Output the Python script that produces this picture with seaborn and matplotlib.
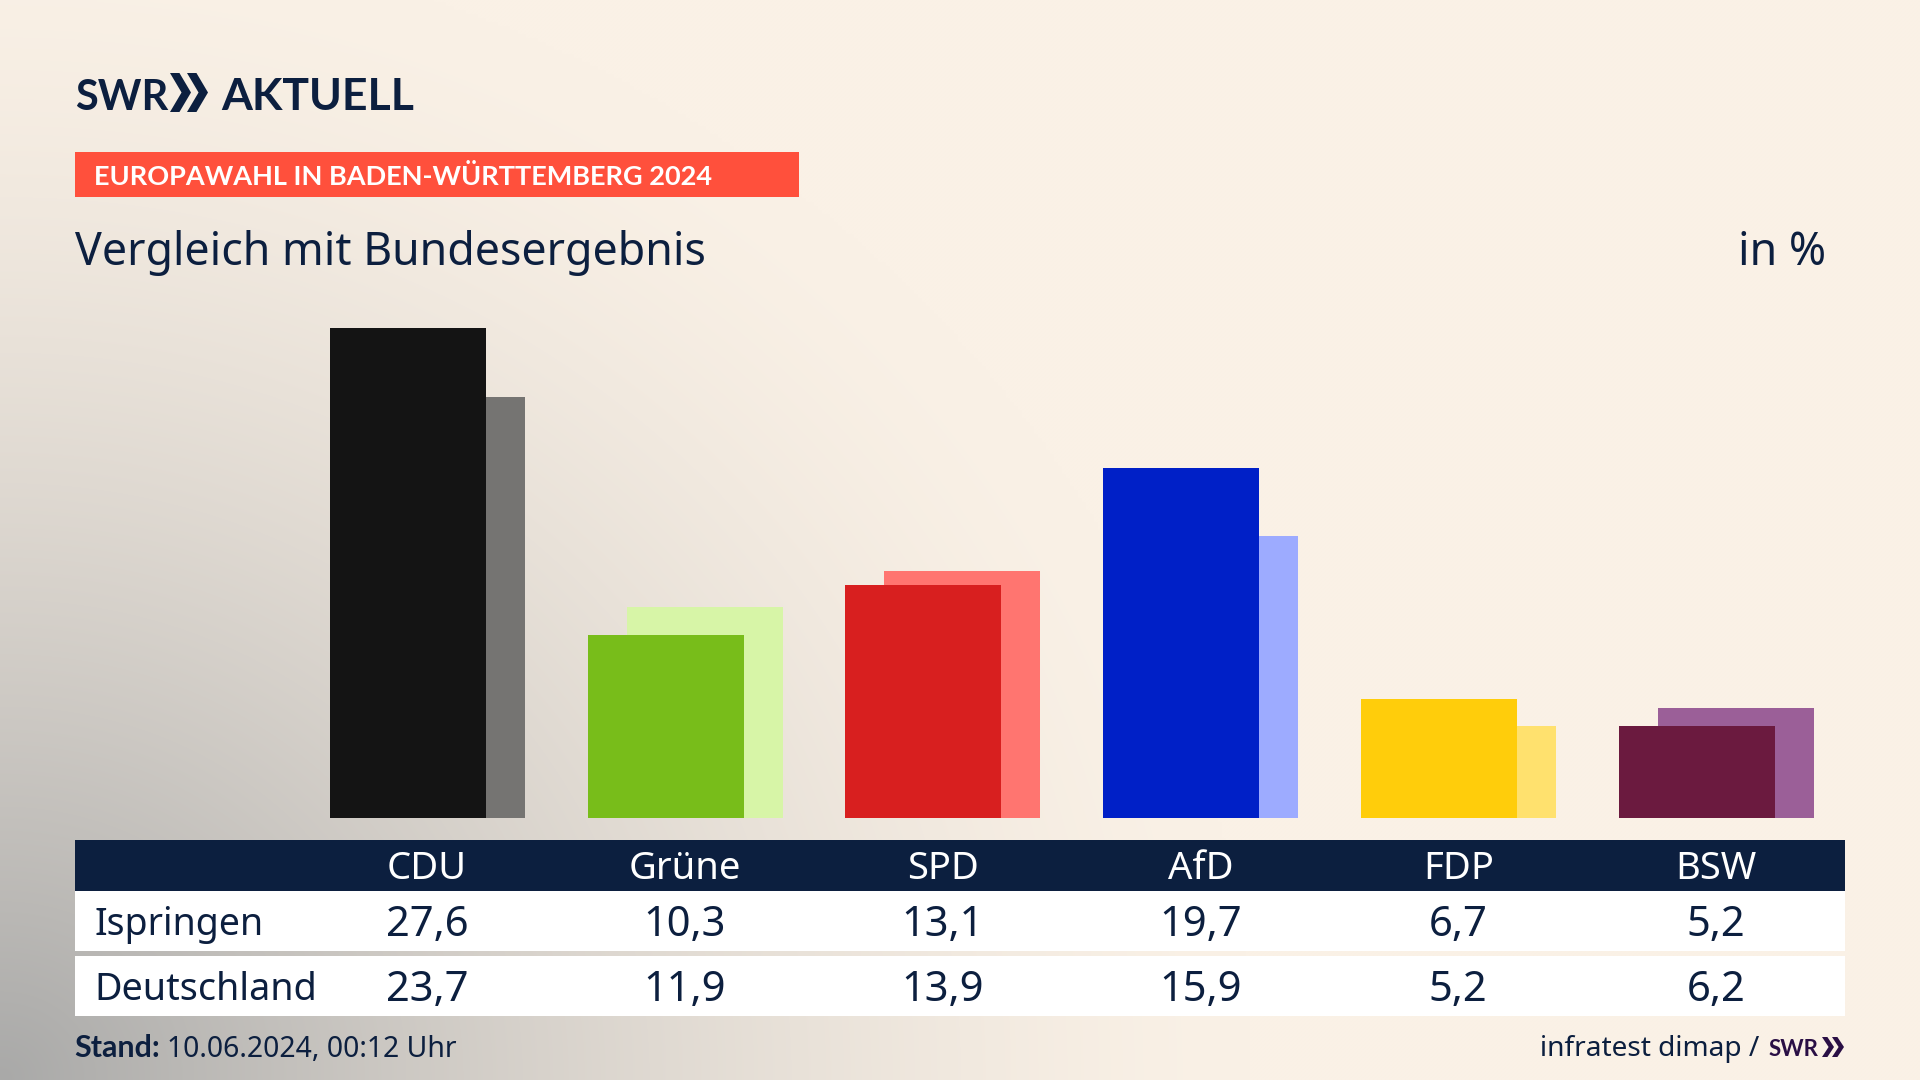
import numpy as np
import pandas as pd
import matplotlib
matplotlib.use("Agg")
import matplotlib.pyplot as plt
from matplotlib.patches import Rectangle, Polygon
from matplotlib.colors import to_rgb
import seaborn as sns

parties = ["CDU", "Grüne", "SPD", "AfD", "FDP", "BSW"]
ispringen = [27.6, 10.3, 13.1, 19.7, 6.7, 5.2]
deutschland = [23.7, 11.9, 13.9, 15.9, 5.2, 6.2]
colors_front = ["#141414", "#78bd1a", "#d81f1f", "#0020c7", "#ffcd0b", "#6b1a3f"]
colors_back = ["#757472", "#d7f5a7", "#ff7570", "#9dabff", "#ffe16e", "#9b5f98"]
row_names = ["Ispringen", "Deutschland"]
brand = "SWR"
brand2 = "AKTUELL"
banner = "EUROPAWAHL IN BADEN-WÜRTTEMBERG 2024"
title = "Vergleich mit Bundesergebnis"
unit = "in %"
stand_label = "Stand:"
stand_value = "10.06.2024, 00:12 Uhr"
source = "infratest dimap /"

NAVY = "#0c1f3f"
CREAM = "#faf1e6"
W, H = 1920, 1080
HEAVY = ["Lato", "DejaVu Sans"]

sns.set_theme(style="white")
plt.rcParams["font.family"] = ["Noto Sans", "DejaVu Sans"]

fig = plt.figure(figsize=(W / 100, H / 100), dpi=100, facecolor=CREAM)
bg = fig.add_axes([0, 0, 1, 1], zorder=0)
bg.axis("off")

# background glow from the lower-left corner
yy, xx = np.mgrid[0:H:270j, 0:W:480j]
d = np.clip(np.sqrt((xx / 1250) ** 2 + ((H - yy) / 1150) ** 2), 0, 1)
t = 1 - (1 - d) ** 1.5
c0, c1 = np.array(to_rgb("#a9a9a8")), np.array(to_rgb(CREAM))
img = c0[None, None, :] * (1 - t[..., None]) + c1[None, None, :] * t[..., None]
bg.imshow(img, extent=(0, W, H, 0), aspect="auto", interpolation="bilinear", zorder=0)
bg.set_xlim(0, W)
bg.set_ylim(H, 0)

# bars: two overlaid seaborn axes, the national result shifted to the right
BASE, TOP = 818, 328
STEP = 257.9
LEFT_F = 278.7
OFFSET = 39
px_per_unit = (BASE - TOP) / ispringen[0]
ymax = (BASE - 230) / px_per_unit


def bar_axes(left):
    ax = fig.add_axes([left / W, 1 - BASE / H, 6 * STEP / W, (BASE - 230) / H])
    ax.patch.set_alpha(0)
    return ax


def draw(ax, values, palette):
    df = pd.DataFrame({"party": parties, "value": values})
    sns.barplot(data=df, x="party", y="value", hue="party", palette=palette,
                order=parties, hue_order=parties, dodge=False, width=156 / STEP,
                saturation=1, legend=False, linewidth=0, edgecolor="none", ax=ax)
    ax.set_xlim(-0.5, 5.5)
    ax.set_ylim(0, ymax)
    ax.axis("off")


ax_back = bar_axes(LEFT_F + OFFSET)
ax_back.set_zorder(1)
draw(ax_back, deutschland, colors_back)
ax_front = bar_axes(LEFT_F)
ax_front.set_zorder(2)
draw(ax_front, ispringen, colors_front)

# overlay layer for text and table
ov = fig.add_axes([0, 0, 1, 1], zorder=3)
ov.set_xlim(0, W)
ov.set_ylim(H, 0)
ov.axis("off")
ov.patch.set_alpha(0)


def txt(x, y, s, size, color=NAVY, weight="normal", ha="left", family=None):
    kw = {"family": family} if family else {}
    return ov.text(x, y, s, fontsize=size, color=color, fontweight=weight, ha=ha, va="baseline", **kw)


def chevrons(x0, y0, y1, w, gap, color):
    ym = (y0 + y1) / 2
    for i in range(2):
        x = x0 + i * gap
        ov.add_patch(Polygon([(x, y0), (x + w * 0.45, y0), (x + w, ym), (x + w * 0.45, y1), (x, y1), (x + w * 0.55, ym)],
                             closed=True, fc=color, ec="none"))


# logo
txt(75, 110, brand, 30, weight="bold", family=HEAVY)
chevrons(170, 73, 112, 21, 17, NAVY)
txt(221, 110, brand2, 32, weight="bold", family=HEAVY)

# banner and titles
ov.add_patch(Rectangle((75, 152), 724, 45, fc="#ff503c", ec="none"))
txt(94, 185, banner, 19.5, color="white", weight="bold", family=HEAVY)
txt(75, 265, title, 32.2)
txt(1826, 265, unit, 32.2, ha="right")

# table
ov.add_patch(Rectangle((75, 840), 1770, 51, fc=NAVY, ec="none"))
ov.add_patch(Rectangle((75, 891), 1770, 60, fc="white", ec="none"))
ov.add_patch(Rectangle((75, 956), 1770, 60, fc="white", ec="none"))
col0, col_step = 427, 257.8
for i, p in enumerate(parties):
    x = col0 + i * col_step
    txt(x, 879, p, 27.5, color="white", ha="center")
    txt(x, 936, f"{ispringen[i]:.1f}".replace(".", ","), 30, ha="center")
    txt(x, 1001, f"{deutschland[i]:.1f}".replace(".", ","), 30, ha="center")
txt(94, 935, row_names[0], 27)
txt(94, 1000, row_names[1], 27.2)

# footer
txt(74, 1057, stand_label, 22, weight="bold", family=HEAVY)
txt(167, 1057, stand_value, 20.4)
txt(1759, 1056, source, 20.2, ha="right")
txt(1769, 1056, brand, 16, color="#2a0f45", weight="bold", family=HEAVY)
chevrons(1822, 1037, 1057, 12, 10, "#2a0f45")

fig.savefig("out.png", dpi=100, facecolor=CREAM)
